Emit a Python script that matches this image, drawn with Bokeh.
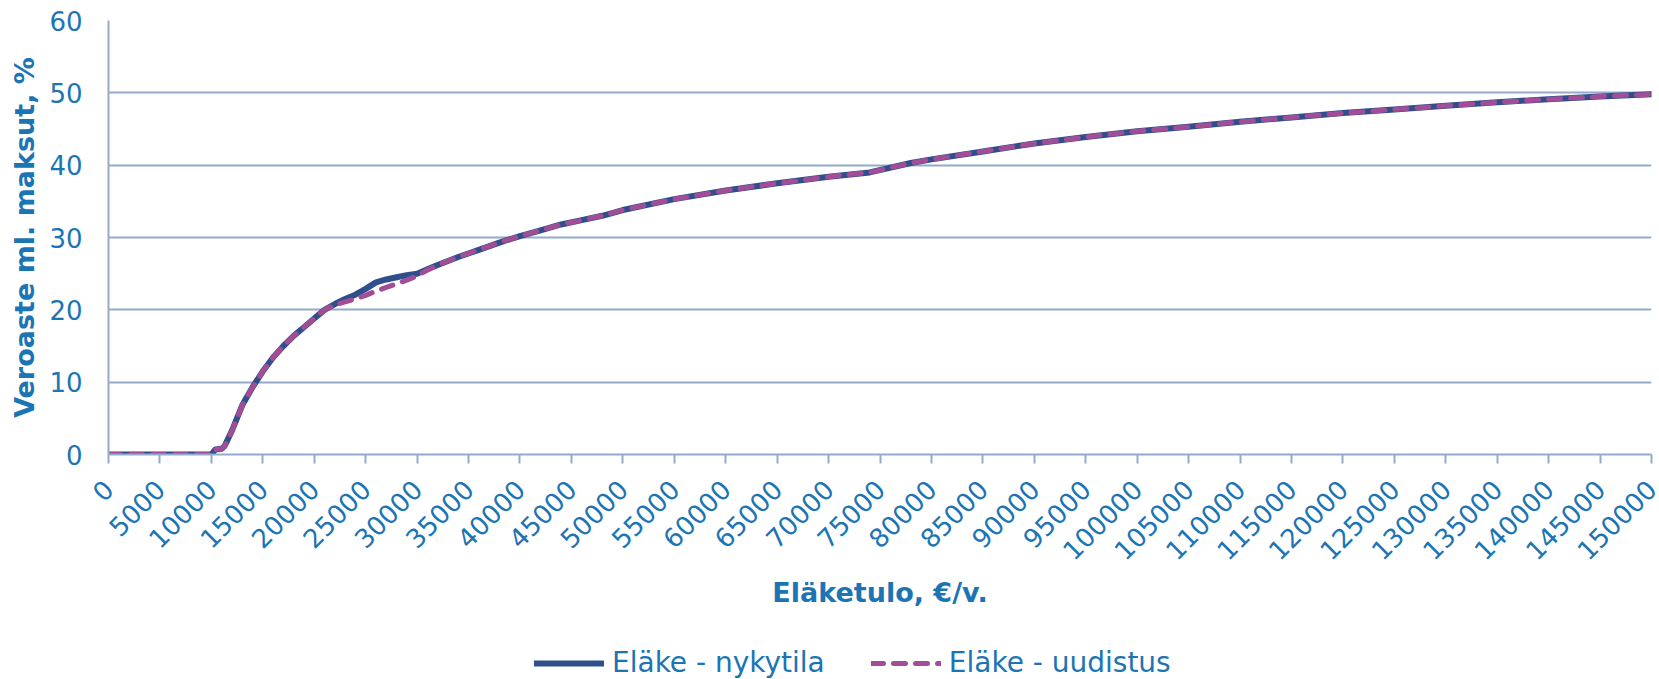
import math
from bokeh.plotting import figure
from bokeh.layouts import column
from bokeh.models import ColumnDataSource, FixedTicker, BasicTickFormatter, Legend, LegendItem, Range1d
from bokeh.embed import file_html
from bokeh.resources import INLINE

# ---- data ----
income = [0, 5000, 10000, 10400, 11000, 11300, 12000, 13000, 14000, 15000, 16000, 17000,
          18000, 19000, 20000, 21000, 22000, 23000, 24000, 25000, 26000, 27000, 28000,
          29000, 30000, 31000, 32000, 34000, 36000, 38000, 40000, 42000, 44000, 46000,
          48000, 50000, 55000, 60000, 65000, 70000, 74000, 78000, 80000, 85000, 90000,
          95000, 100000, 105000, 110000, 115000, 120000, 125000, 130000, 135000, 140000,
          145000, 150000]
nykytila = [0, 0, 0, 0.7, 0.8, 1.2, 3.3, 6.8, 9.3, 11.5, 13.4, 15.0,
            16.4, 17.6, 18.8, 20.0, 20.8, 21.5, 22.1, 22.9, 23.8, 24.2, 24.5,
            24.8, 25.0, 25.6, 26.2, 27.3, 28.3, 29.3, 30.2, 31.0, 31.8, 32.4,
            33.0, 33.8, 35.3, 36.5, 37.5, 38.4, 39.0, 40.3, 40.8, 41.9, 43.0,
            43.9, 44.7, 45.3, 46.0, 46.6, 47.2, 47.7, 48.2, 48.7, 49.1,
            49.5, 49.8]
uudistus = [0, 0, 0, 0.7, 0.8, 1.2, 3.3, 6.8, 9.3, 11.5, 13.4, 15.0,
            16.4, 17.6, 18.8, 20.0, 20.7, 21.1, 21.5, 22.0, 22.6, 23.1, 23.6,
            24.1, 24.7, 25.5, 26.2, 27.3, 28.3, 29.3, 30.2, 31.0, 31.8, 32.4,
            33.0, 33.8, 35.3, 36.5, 37.5, 38.4, 39.0, 40.3, 40.8, 41.9, 43.0,
            43.9, 44.7, 45.3, 46.0, 46.6, 47.2, 47.7, 48.2, 48.7, 49.1,
            49.5, 49.8]
x_ticks = list(range(0, 150001, 5000))
y_ticks = [0, 10, 20, 30, 40, 50, 60]
labels = ["Eläke - nykytila", "Eläke - uudistus"]

TEXT = "#1B75B4"
GRID = "#93AACB"
FONT = "DejaVu Sans"
C1 = "#2F4F8C"
C2 = "#A24E97"

src = ColumnDataSource(dict(x=income, a=nykytila, b=uudistus))

p = figure(width=1659, height=647, output_backend="svg", toolbar_location=None,
           x_range=Range1d(0, 150000), y_range=Range1d(0, 60),
           min_border_left=108, min_border_right=8, min_border_top=20, min_border_bottom=193)
p.outline_line_color = None
p.background_fill_color = "white"

p.line("x", "a", source=src, line_color=C1, line_width=6, line_cap="round", line_join="round")
p.line("x", "b", source=src, line_color=C2, line_width=5, line_dash="12 10",
       line_cap="round", line_join="round")

# grids
p.xgrid.visible = False
p.ygrid.ticker = FixedTicker(ticks=y_ticks)
p.ygrid.grid_line_color = GRID
p.ygrid.grid_line_width = 2

# x axis
xa = p.xaxis[0]
xa.ticker = FixedTicker(ticks=x_ticks)
xa.formatter = BasicTickFormatter(use_scientific=False)
xa.major_label_orientation = math.pi / 4
xa.axis_line_color = GRID
xa.axis_line_width = 2
xa.major_tick_line_color = GRID
xa.major_tick_line_width = 2
xa.major_tick_out = 9
xa.major_tick_in = 0
xa.minor_tick_line_color = None
xa.major_label_standoff = 21
xa.major_label_text_font = FONT
xa.major_label_text_font_size = "26px"
xa.major_label_text_color = TEXT
xa.axis_label = "Eläketulo, €/v."
xa.axis_label_text_font = FONT
xa.axis_label_text_font_size = "27px"
xa.axis_label_text_font_style = "bold"
xa.axis_label_text_color = TEXT
xa.axis_label_standoff = 5

# y axis
ya = p.yaxis[0]
ya.ticker = FixedTicker(ticks=y_ticks)
ya.axis_line_color = GRID
ya.axis_line_width = 2
ya.major_tick_line_color = None
ya.major_tick_out = 0
ya.major_tick_in = 0
ya.minor_tick_line_color = None
ya.major_label_standoff = 26
ya.major_label_text_font = FONT
ya.major_label_text_font_size = "26px"
ya.major_label_text_color = TEXT
ya.axis_label = "Veroaste ml. maksut, %"
ya.axis_label_text_font = FONT
ya.axis_label_text_font_size = "27px"
ya.axis_label_text_font_style = "bold"
ya.axis_label_text_color = TEXT
ya.axis_label_standoff = 6

# ---- legend strip (separate figure below the chart; its lines lie outside its view) ----
q = figure(width=1659, height=32, output_backend="svg", toolbar_location=None,
           x_range=Range1d(0, 150000), y_range=Range1d(1000, 1001),
           x_axis_type=None, y_axis_type=None, min_border=0)
q.outline_line_color = None
q.xgrid.visible = False
q.ygrid.visible = False
k1 = q.line("x", "a", source=src, line_color=C1, line_width=6, line_cap="round")
k2 = q.line("x", "b", source=src, line_color=C2, line_width=5, line_dash="12 10", line_cap="round")

legend = Legend(items=[LegendItem(label=labels[0], renderers=[k1]),
                       LegendItem(label=labels[1], renderers=[k2])],
                orientation="horizontal", location=(426, 0),
                padding=0, margin=0, spacing=46, label_standoff=8,
                glyph_width=70, glyph_height=30,
                label_text_font=FONT, label_text_font_size="28px", label_text_color=TEXT,
                background_fill_alpha=0, border_line_color=None)
q.add_layout(legend, "center")

open("out.html", "w").write(file_html(column(p, q, spacing=0), INLINE))
